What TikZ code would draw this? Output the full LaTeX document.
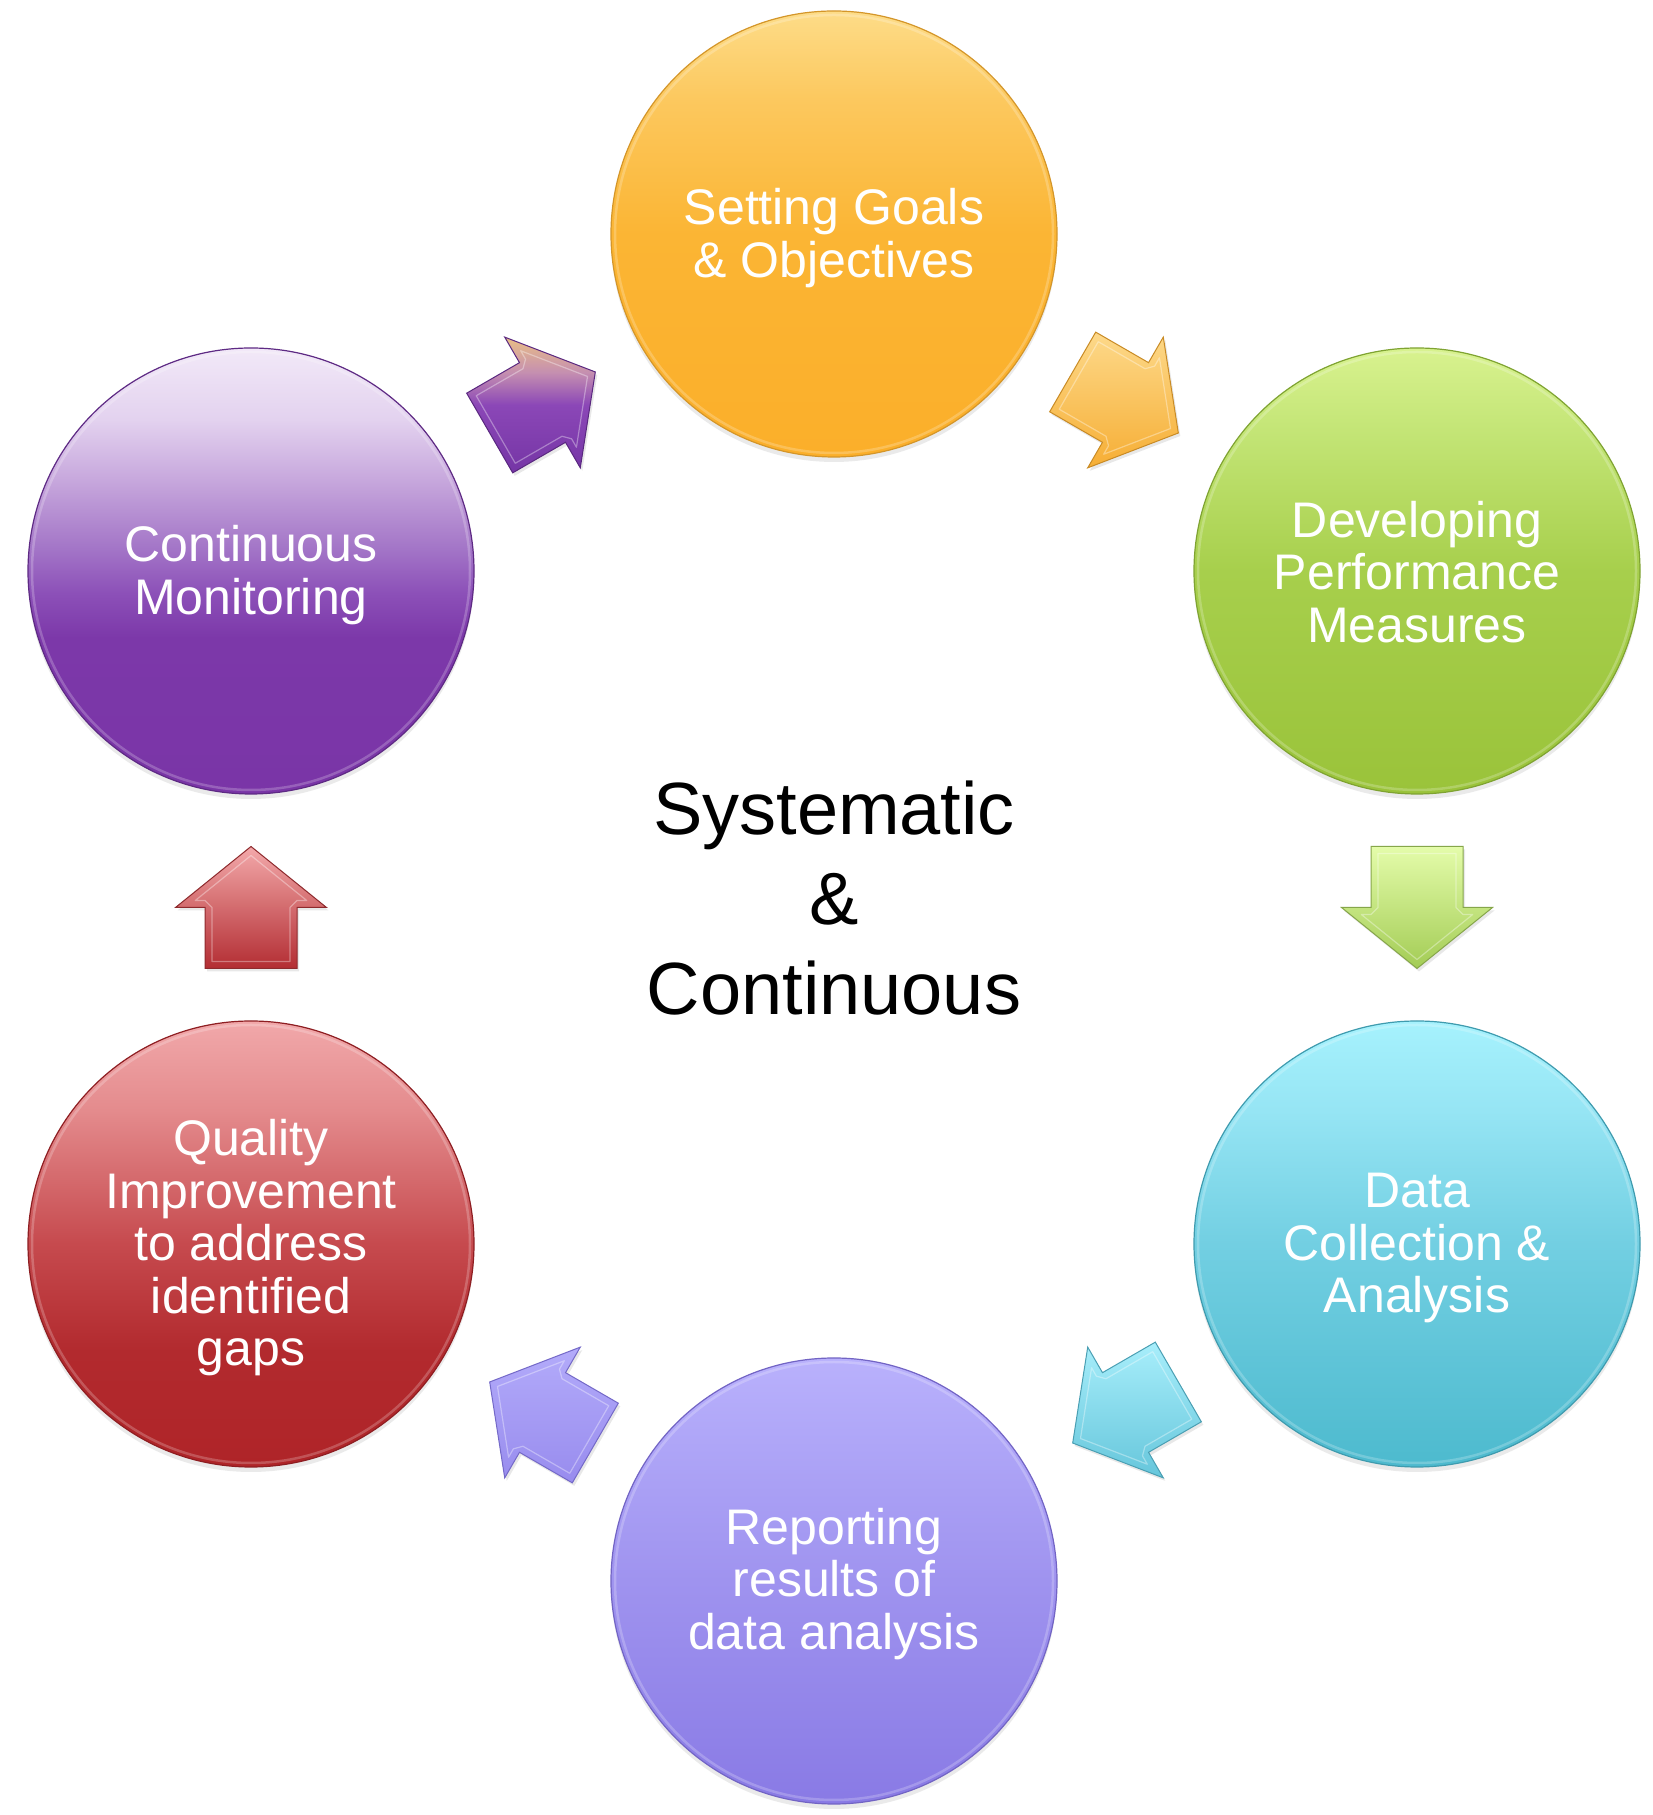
\documentclass[tikz,border=0pt]{standalone}
\usepackage{fontspec}
\setmainfont{Liberation Sans}
\usetikzlibrary{calc,shadows}

% stage colours (top / upper / middle / bottom) and rim
\definecolor{orT}{HTML}{FDDC88}\definecolor{orU}{HTML}{FCC85E}\definecolor{orM}{HTML}{FBB534}\definecolor{orB}{HTML}{FBAF2A}\definecolor{orE}{HTML}{D4962A}
\definecolor{grT}{HTML}{D8F28F}\definecolor{grU}{HTML}{C2E474}\definecolor{grM}{HTML}{A7CF4C}\definecolor{grB}{HTML}{9AC33A}\definecolor{grE}{HTML}{7FA332}
\definecolor{cyT}{HTML}{A6F2FD}\definecolor{cyU}{HTML}{96E5F4}\definecolor{cyM}{HTML}{72CFE2}\definecolor{cyB}{HTML}{4DBACE}\definecolor{cyE}{HTML}{3F9BAE}
\definecolor{laT}{HTML}{B9B1FC}\definecolor{laU}{HTML}{AEA5F7}\definecolor{laM}{HTML}{9F93EF}\definecolor{laB}{HTML}{897AE5}\definecolor{laE}{HTML}{7264C4}
\definecolor{reT}{HTML}{F1A8AA}\definecolor{reU}{HTML}{E48B8D}\definecolor{reM}{HTML}{C64A4E}\definecolor{reL}{HTML}{B22A2E}\definecolor{reB}{HTML}{AF2428}\definecolor{reE}{HTML}{8E1E22}
\definecolor{puT}{HTML}{F2E9F8}\definecolor{puU}{HTML}{E3D2EF}\definecolor{puV}{HTML}{C6A6DC}\definecolor{puM}{HTML}{A375C7}\definecolor{puN}{HTML}{8C50B8}\definecolor{puL}{HTML}{7C38A9}\definecolor{puB}{HTML}{7A35A7}\definecolor{puE}{HTML}{5E2A84}

% arrow colours
\definecolor{aoT}{HTML}{FDD98A}\definecolor{aoB}{HTML}{F6AE35}\definecolor{aoE}{HTML}{C98B25}
\definecolor{agT}{HTML}{E4FCAA}\definecolor{agB}{HTML}{A3CC55}\definecolor{agE}{HTML}{86A64A}
\definecolor{acT}{HTML}{A8EEFB}\definecolor{acB}{HTML}{66C6DB}\definecolor{acE}{HTML}{4A9FB3}
\definecolor{alT}{HTML}{B3ABFA}\definecolor{alB}{HTML}{988CEE}\definecolor{alE}{HTML}{7469C8}
\definecolor{arT}{HTML}{F3A9AB}\definecolor{arM}{HTML}{D36B6E}\definecolor{arB}{HTML}{B32E33}\definecolor{arE}{HTML}{8E2A2D}
\definecolor{apT}{HTML}{E9BF85}\definecolor{apU}{HTML}{C58FB0}\definecolor{apM}{HTML}{8B47B7}\definecolor{apB}{HTML}{7535A5}\definecolor{apE}{HTML}{5A2880}

% vertical shadings: 25bp = bottom of the shape, 75bp = top of the shape
\pgfdeclareverticalshading{shGoals}{100bp}{color(0bp)=(orB); color(25bp)=(orB); color(50bp)=(orM); color(65bp)=(orU); color(75bp)=(orT); color(100bp)=(orT)}
\pgfdeclareverticalshading{shMeasures}{100bp}{color(0bp)=(grB); color(25bp)=(grB); color(50bp)=(grM); color(65bp)=(grU); color(75bp)=(grT); color(100bp)=(grT)}
\pgfdeclareverticalshading{shData}{100bp}{color(0bp)=(cyB); color(25bp)=(cyB); color(50bp)=(cyM); color(65bp)=(cyU); color(75bp)=(cyT); color(100bp)=(cyT)}
\pgfdeclareverticalshading{shReport}{100bp}{color(0bp)=(laB); color(25bp)=(laB); color(50bp)=(laM); color(65bp)=(laU); color(75bp)=(laT); color(100bp)=(laT)}
\pgfdeclareverticalshading{shQuality}{100bp}{color(0bp)=(reB); color(25bp)=(reB); color(38bp)=(reL); color(50bp)=(reM); color(65bp)=(reU); color(75bp)=(reT); color(100bp)=(reT)}
\pgfdeclareverticalshading{shMonitor}{100bp}{color(0bp)=(puB); color(25bp)=(puB); color(42.5bp)=(puL); color(47.5bp)=(puN); color(52.5bp)=(puM); color(60bp)=(puV); color(67bp)=(puU); color(75bp)=(puT); color(100bp)=(puT)}
\pgfdeclareverticalshading{shArrowPurple}{100bp}{color(0bp)=(apB); color(25bp)=(apB); color(50bp)=(apM); color(62bp)=(apU); color(75bp)=(apT); color(100bp)=(apT)}

% block arrow half-way between two stages, pointing from #1 to #2
\newcommand{\flowarrow}[3]{%
  \path[arrowbody,#3] let \p1=($(#2.center)-(#1.center)$), \n1={atan2(\y1,\x1)},
      \p2=($(#1.center)!0.5!(#2.center)$) in
    ($(\p2)+(\n1:61)$)
    -- ($(\p2)+(\n1+90:75.5)$)
    -- ($(\p2)+(\n1+90:46)$)
    -- ($(\p2)+(\n1:-61)+(\n1+90:46)$)
    -- ($(\p2)+(\n1:-61)+(\n1-90:46)$)
    -- ($(\p2)+(\n1-90:46)$)
    -- ($(\p2)+(\n1-90:75.5)$)
    -- cycle;
  \draw[bevel] let \p1=($(#2.center)-(#1.center)$), \n1={atan2(\y1,\x1)},
      \p2=($(#1.center)!0.5!(#2.center)$) in
    ($(\p2)+(\n1:52)$)
    -- ($(\p2)+(\n1:7)+(\n1+90:55.7)$)
    -- ($(\p2)+(\n1:7)+(\n1+90:46)$)
    -- ($(\p2)+(\n1+90:39)$)
    -- ($(\p2)+(\n1:-54)+(\n1+90:39)$)
    -- ($(\p2)+(\n1:-54)+(\n1-90:39)$)
    -- ($(\p2)+(\n1-90:39)$)
    -- ($(\p2)+(\n1:7)+(\n1-90:46)$)
    -- ($(\p2)+(\n1:7)+(\n1-90:55.7)$)
    -- cycle;
}

\begin{document}
\begin{tikzpicture}[x=1pt, y=1pt,
  stage/.style={circle, minimum size=446pt, inner sep=0pt, line width=1.2pt,
    drop shadow={opacity=0.16, shadow xshift=0pt, shadow yshift=-5pt}},
  stagetext/.style={text=white, align=center, inner sep=0pt,
    font=\fontsize{50}{52.5}\selectfont},
  rimlight/.style={white, opacity=0.22, line width=2.5pt},
  arrowbody/.style={line width=1pt, line join=miter,
    drop shadow={opacity=0.18, shadow xshift=2pt, shadow yshift=-3pt}},
  bevel/.style={white, opacity=0.35, line width=1.2pt, line join=round},
  core/.style={align=center, font=\fontsize{74}{90}\selectfont, text=black}]

\useasboundingbox[fill=white] (0,0) rectangle (1653,1815);

% the six stages of the cycle
\node[stage, shading=shGoals,    draw=orE] (goals)    at (834,1581) {};
\node[stage, shading=shMeasures, draw=grE] (measures) at (1417,1244) {};
\node[stage, shading=shData,     draw=cyE] (data)     at (1417,571)  {};
\node[stage, shading=shReport,   draw=laE] (report)   at (834,234)   {};
\node[stage, shading=shQuality,  draw=reE] (quality)  at (251,571)   {};
\node[stage, shading=shMonitor,  draw=puE] (monitor)  at (251,1244)  {};

\foreach \s in {goals,measures,data,report,quality,monitor}
  \draw[rimlight] (\s.center) circle (219);

% stage captions
\node[stagetext] (goalsText)    at ($(goals.center)+(0,-4)$)    {Setting Goals\\\& Objectives};
\node[stagetext] (measuresText) at ($(measures.center)+(0,-1)$) {Developing\\Performance\\Measures};
\node[stagetext] (dataText)     at ($(data.center)+(0,-4)$)     {Data\\Collection \&\\Analysis};
\node[stagetext] (reportText)   at ($(report.center)+(0,-3)$)   {Reporting\\results of\\data analysis};
\node[stagetext] (qualityText)  at ($(quality.center)+(0,-4)$)  {Quality\\Improvement\\to address\\identified\\gaps};
\node[stagetext] (monitorText)  at ($(monitor.center)+(0,-4)$)  {Continuous\\Monitoring};

% arrows around the cycle
\flowarrow{goals}{measures}{top color=aoT, bottom color=aoB, draw=aoE}
\flowarrow{measures}{data}{top color=agT, bottom color=agB, draw=agE}
\flowarrow{data}{report}{top color=acT, bottom color=acB, draw=acE}
\flowarrow{report}{quality}{top color=alT, bottom color=alB, draw=alE}
\flowarrow{quality}{monitor}{top color=arT, bottom color=arB, middle color=arM, draw=arE}
\flowarrow{monitor}{goals}{shading=shArrowPurple, draw=apE}

% centre caption
\node[core] (caption) at (834,917) {Systematic\\\&\\Continuous};
\end{tikzpicture}
\end{document}
